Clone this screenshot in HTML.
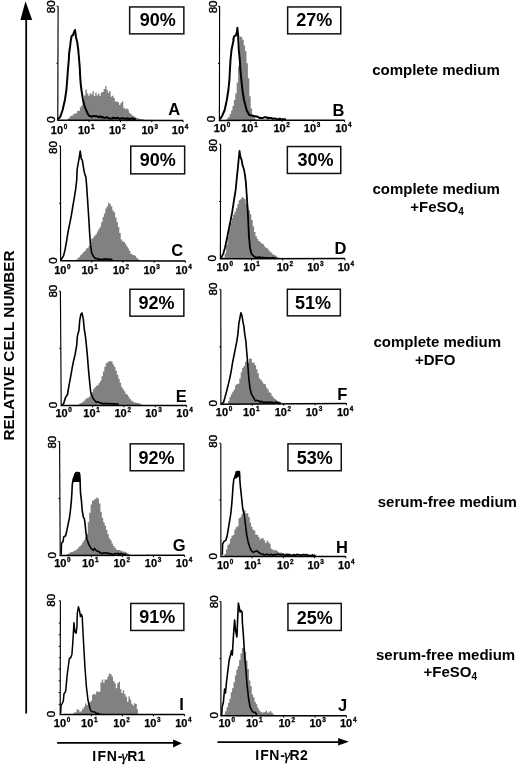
<!DOCTYPE html>
<html><head><meta charset="utf-8"><title>IFN-gamma receptor flow cytometry</title>
<style>
html,body{margin:0;padding:0;background:#fff;}
body{width:520px;height:768px;overflow:hidden;}
svg{display:block;}
</style></head><body>
<svg width="520" height="768" viewBox="0 0 520 768">
<rect width="520" height="768" fill="#fff"/>
<path d="M67.25,120.2 L67.25,118.92 L68.65,118.92 L68.65,117.81 L70.05,117.81 L70.05,116.06 L71.45,116.06 L71.45,115.86 L72.85,115.86 L72.85,114.24 L74.25,114.24 L74.25,113.61 L75.65,113.61 L75.65,113.26 L77.05,113.26 L77.05,111.1 L78.45,111.1 L78.45,110.63 L79.85,110.63 L79.85,107.16 L81.25,107.16 L81.25,105.5 L82.65,105.5 L82.65,101.34 L84.05,101.34 L84.05,95.44 L85.45,95.44 L85.45,89.49 L86.85,89.49 L86.85,93.4 L88.25,93.4 L88.25,95.87 L89.65,95.87 L89.65,93.31 L91.05,93.31 L91.05,94.56 L92.45,94.56 L92.45,91.34 L93.85,91.34 L93.85,95.91 L95.25,95.91 L95.25,92.7 L96.65,92.7 L96.65,95.6 L98.05,95.6 L98.05,93.42 L99.45,93.42 L99.45,95.71 L100.85,95.71 L100.85,92.52 L102.25,92.52 L102.25,92.1 L103.65,92.1 L103.65,88.93 L105.05,88.93 L105.05,86.23 L106.45,86.23 L106.45,89.97 L107.85,89.97 L107.85,92.74 L109.25,92.74 L109.25,90.92 L110.65,90.92 L110.65,96.64 L112.05,96.64 L112.05,95.81 L113.45,95.81 L113.45,98.11 L114.85,98.11 L114.85,101.61 L116.25,101.61 L116.25,101.62 L117.65,101.62 L117.65,102.13 L119.05,102.13 L119.05,104.94 L120.45,104.94 L120.45,103.07 L121.85,103.07 L121.85,101.26 L123.25,101.26 L123.25,107.65 L124.65,107.65 L124.65,109.16 L126.05,109.16 L126.05,108.2 L127.45,108.2 L127.45,109.49 L128.85,109.49 L128.85,112.82 L130.25,112.82 L130.25,113.92 L131.65,113.92 L131.65,115.45 L133.05,115.45 L133.05,116.12 L134.45,116.12 L134.45,117.02 L135.85,117.02 L135.85,118.06 L137.25,118.06 L137.25,118 L138.65,118 L138.65,118.81 L140.05,118.81 L140.05,118.99 L141.45,118.99 L141.45,119.15 L142.85,119.15 L142.85,119.55 L144.2,119.55 L144.2,120.2 Z" fill="#818181"/>
<path d="M57.9,119.1 L60.2,117 L62.6,110 L64.9,100 L66.4,90 L67.2,80 L67.9,70 L68.8,60 L69.1,53.5 L70,47.25 L70.75,41 L71.6,36 L72.9,35.4 L73.75,32.9 L75,30 L76,37.25 L77.25,42.25 L78.25,49.75 L79,58.5 L79.8,68 L80.2,77 L80.8,85 L81.6,91 L83,100 L84.5,106 L86.1,110 L87.9,114.2 L89.25,115.88 L90.45,115.98 L91.65,116.81 L92.85,116.12 L94.05,116.11 L95.25,116.15 L96.45,116.05 L97.65,116.66 L98.85,117.22 L100.05,116.27 L101.25,117.16 L102.45,116.95 L103.65,117.71 L104.85,117.87 L106.05,117.27 L107.25,117.4 L108.45,118.02 L109.65,118.52 L110.85,118.48 L112.05,118.56 L113.25,117.63 L114.45,117.97 L115.65,118.32 L116.85,118.04 L118.05,117.87 L119.25,118.85 L120.45,118.47 L121.65,118.15 L122.85,118.28 L124.05,118.61 L125.25,118.71 L126.45,118.76 L127.65,118.15 L128.85,119.06 L130.05,118.95 L131.25,118.43 L132.45,118.47 L133.65,119.01 L134.85,118.94 L135,119.3" fill="none" stroke="#000" stroke-width="2.0" stroke-linejoin="round" stroke-linecap="round"/>
<path d="M58.1,6.2 L57.8,120.2" fill="none" stroke="#000" stroke-width="1.15"/>
<path d="M57.2,120.2 L183.1,120.4" fill="none" stroke="#000" stroke-width="1.5"/>
<path d="M56.6,6.2 H58.1 M56.45,63.2 H57.95" stroke="#000" stroke-width="1"/>
<path d="M89.12,120.25 v1.8 M120.45,120.3 v1.8 M151.77,120.35 v1.8 M183.1,120.4 v1.8" stroke="#000" stroke-width="1"/>
<text transform="translate(55.15,13.22) rotate(-90)" font-size="11.5" stroke="#000" stroke-width="0.45" font-family="Liberation Sans, Arial, sans-serif">80</text>
<text transform="translate(54.95,122.8) rotate(-90)" font-size="11.5" stroke="#000" stroke-width="0.45" font-family="Liberation Sans, Arial, sans-serif">0</text>
<text x="50.8" y="133.8" font-size="11" font-weight="bold" stroke="#000" stroke-width="0.25" font-family="Liberation Sans, Arial, sans-serif">10<tspan x="63.7" y="128.9" font-size="6.4" stroke-width="0.3">0</tspan></text>
<text x="78" y="133.8" font-size="11" font-weight="bold" stroke="#000" stroke-width="0.25" font-family="Liberation Sans, Arial, sans-serif">10<tspan x="90.9" y="128.9" font-size="6.4" stroke-width="0.3">1</tspan></text>
<text x="109" y="133.8" font-size="11" font-weight="bold" stroke="#000" stroke-width="0.25" font-family="Liberation Sans, Arial, sans-serif">10<tspan x="121.9" y="128.9" font-size="6.4" stroke-width="0.3">2</tspan></text>
<text x="141.5" y="133.8" font-size="11" font-weight="bold" stroke="#000" stroke-width="0.25" font-family="Liberation Sans, Arial, sans-serif">10<tspan x="154.4" y="128.9" font-size="6.4" stroke-width="0.3">3</tspan></text>
<text x="171.8" y="133.8" font-size="11" font-weight="bold" stroke="#000" stroke-width="0.25" font-family="Liberation Sans, Arial, sans-serif">10<tspan x="184.7" y="128.9" font-size="6.4" stroke-width="0.3">4</tspan></text>
<rect x="129.65" y="6.95" width="54.2" height="26.9" fill="none" stroke="#111" stroke-width="1.5"/>
<text x="157.7" y="26" text-anchor="middle" font-size="18" font-weight="bold" font-family="Liberation Sans, Arial, sans-serif">90%</text>
<text x="174.2" y="114.6" text-anchor="middle" font-size="16.5" font-weight="bold" font-family="Liberation Sans, Arial, sans-serif">A</text>
<path d="M226.9,120.4 L226.9,118.46 L228.3,118.46 L228.3,116.76 L229.7,116.76 L229.7,113.94 L231.1,113.94 L231.1,110.4 L232.5,110.4 L232.5,105.92 L233.9,105.92 L233.9,99.83 L235.3,99.83 L235.3,93.5 L236.7,93.5 L236.7,82.56 L238.1,82.56 L238.1,66.38 L239.5,66.38 L239.5,36.62 L240.9,36.62 L240.9,37.07 L242.3,37.07 L242.3,39.86 L243.7,39.86 L243.7,45.55 L245.1,45.55 L245.1,51.24 L246.5,51.24 L246.5,63.17 L247.9,63.17 L247.9,78.27 L249.3,78.27 L249.3,96.2 L250.7,96.2 L250.7,108.44 L252.1,108.44 L252.1,114.53 L253.5,114.53 L253.5,117.46 L254.9,117.46 L254.9,118.89 L256.3,118.89 L256.3,120.4 Z" fill="#818181"/>
<path d="M220.3,118.6 L222.1,116 L224.7,110 L226.8,100 L228.4,90 L229.4,80 L229.9,70 L230.5,60 L231.5,50 L233.6,40 L233.3,39.3 L234.3,36.1 L235.9,35.5 L236.9,31.7 L237.4,27.8 L238.2,36.1 L238.3,40 L238.8,50 L239.8,60 L240.4,70 L241.4,80 L242.4,90 L244,100 L246.6,110 L249.2,115 L253.4,115.9 L254.6,116.45 L255.8,116.23 L257,116.75 L258.2,116.86 L259.4,118.09 L260.6,117.82 L261.8,117.91 L263,118 L264.2,117.23 L265.4,117.13 L266.6,117.13 L267.8,118.52 L269,117.65 L270.2,118.13 L271.4,117.93 L272.6,118.78 L273.8,118.47 L275,118.61 L276.2,118.69 L277.4,119.18 L278.6,119.42 L279.8,118.61 L281,119.37 L282.2,119.18 L283.4,119.21 L284.6,119.65 L285,119" fill="none" stroke="#000" stroke-width="2.0" stroke-linejoin="round" stroke-linecap="round"/>
<path d="M219.6,6.3 L219.4,120.4" fill="none" stroke="#000" stroke-width="1.15"/>
<path d="M218.8,120.4 L344.6,120.2" fill="none" stroke="#000" stroke-width="1.5"/>
<path d="M218.1,6.3 H219.6 M218,63.35 H219.5" stroke="#000" stroke-width="1"/>
<path d="M250.7,120.35 v1.8 M282,120.3 v1.8 M313.3,120.25 v1.8 M344.6,120.2 v1.8" stroke="#000" stroke-width="1"/>
<text transform="translate(216.85,13.35) rotate(-90)" font-size="11.5" stroke="#000" stroke-width="0.45" font-family="Liberation Sans, Arial, sans-serif">80</text>
<text transform="translate(214.75,122.35) rotate(-90)" font-size="11.5" stroke="#000" stroke-width="0.45" font-family="Liberation Sans, Arial, sans-serif">0</text>
<text x="213.8" y="131.9" font-size="11" font-weight="bold" stroke="#000" stroke-width="0.25" font-family="Liberation Sans, Arial, sans-serif">10<tspan x="226.7" y="127" font-size="6.4" stroke-width="0.3">0</tspan></text>
<text x="241.26" y="131.9" font-size="11" font-weight="bold" stroke="#000" stroke-width="0.25" font-family="Liberation Sans, Arial, sans-serif">10<tspan x="254.16" y="127" font-size="6.4" stroke-width="0.3">1</tspan></text>
<text x="273.44" y="131.9" font-size="11" font-weight="bold" stroke="#000" stroke-width="0.25" font-family="Liberation Sans, Arial, sans-serif">10<tspan x="286.34" y="127" font-size="6.4" stroke-width="0.3">2</tspan></text>
<text x="303.82" y="131.9" font-size="11" font-weight="bold" stroke="#000" stroke-width="0.25" font-family="Liberation Sans, Arial, sans-serif">10<tspan x="316.72" y="127" font-size="6.4" stroke-width="0.3">3</tspan></text>
<text x="335.2" y="131.9" font-size="11" font-weight="bold" stroke="#000" stroke-width="0.25" font-family="Liberation Sans, Arial, sans-serif">10<tspan x="348.1" y="127" font-size="6.4" stroke-width="0.3">4</tspan></text>
<rect x="287.65" y="6.95" width="53.1" height="26.9" fill="none" stroke="#111" stroke-width="1.5"/>
<text x="314.3" y="25.7" text-anchor="middle" font-size="18" font-weight="bold" font-family="Liberation Sans, Arial, sans-serif">27%</text>
<text x="338.45" y="115.5" text-anchor="middle" font-size="16.5" font-weight="bold" font-family="Liberation Sans, Arial, sans-serif">B</text>
<path d="M75.9,260.8 L75.9,259.77 L77.3,259.77 L77.3,258.22 L78.7,258.22 L78.7,256.98 L80.1,256.98 L80.1,255.27 L81.5,255.27 L81.5,253.85 L82.9,253.85 L82.9,252.31 L84.3,252.31 L84.3,250.89 L85.7,250.89 L85.7,248.66 L87.1,248.66 L87.1,247.92 L88.5,247.92 L88.5,245.67 L89.9,245.67 L89.9,243.21 L91.3,243.21 L91.3,238.73 L92.7,238.73 L92.7,237.38 L94.1,237.38 L94.1,235.65 L95.5,235.65 L95.5,234.35 L96.9,234.35 L96.9,231.49 L98.3,231.49 L98.3,228.92 L99.7,228.92 L99.7,226.72 L101.1,226.72 L101.1,222.23 L102.5,222.23 L102.5,217.11 L103.9,217.11 L103.9,213.55 L105.3,213.55 L105.3,208.62 L106.7,208.62 L106.7,206.18 L108.1,206.18 L108.1,202.76 L109.5,202.76 L109.5,204.35 L110.9,204.35 L110.9,206.41 L112.3,206.41 L112.3,210.59 L113.7,210.59 L113.7,212.32 L115.1,212.32 L115.1,217.57 L116.5,217.57 L116.5,222.01 L117.9,222.01 L117.9,227 L119.3,227 L119.3,233.07 L120.7,233.07 L120.7,239.54 L122.1,239.54 L122.1,241.23 L123.5,241.23 L123.5,241.98 L124.9,241.98 L124.9,243.85 L126.3,243.85 L126.3,246.27 L127.7,246.27 L127.7,248.54 L129.1,248.54 L129.1,250.99 L130.5,250.99 L130.5,253.95 L131.9,253.95 L131.9,254.41 L133.3,254.41 L133.3,255.15 L134.7,255.15 L134.7,255.79 L136.1,255.79 L136.1,257.65 L137.5,257.65 L137.5,259.03 L138.9,259.03 L138.9,260.06 L140,260.06 L140,260.8 Z" fill="#818181"/>
<path d="M61.3,259.5 L63.6,255.6 L65.1,249.5 L66.7,240.3 L68.2,231 L69.8,223.4 L71.3,215.7 L72.8,206.5 L74.4,197.2 L75.6,189.6 L76.7,180.3 L77.1,169.6 L78.2,163.4 L79.3,157.3 L80.2,151.1 L81.3,158.8 L82.4,160.4 L83.3,166.5 L84.4,172.7 L85.9,177.3 L86.7,186.5 L87.4,197.2 L88.2,209.5 L89,221.8 L89.7,234.1 L90.5,244.9 L91.6,252.6 L93.6,256.6 L94.8,258.05 L96,258.81 L97.2,258.5 L98.4,259.45 L99.6,258.89 L100.8,259.31 L102,259.88 L103.2,259.03 L104.4,258.88 L105.6,259.12 L106.8,258.96 L108,259.57 L109.2,259.17 L110.4,259.18 L111.6,259.52 L112,259.8" fill="none" stroke="#000" stroke-width="1.6" stroke-linejoin="round" stroke-linecap="round"/>
<path d="M60.5,146 L60.6,260.8" fill="none" stroke="#000" stroke-width="1.15"/>
<path d="M60,260.8 L185.4,260.9" fill="none" stroke="#000" stroke-width="1.5"/>
<path d="M59,146 H60.5 M59.05,203.4 H60.55" stroke="#000" stroke-width="1"/>
<path d="M91.8,260.82 v1.8 M123,260.85 v1.8 M154.2,260.88 v1.8 M185.4,260.9 v1.8" stroke="#000" stroke-width="1"/>
<text transform="translate(56.9,153.9) rotate(-90)" font-size="11.5" stroke="#000" stroke-width="0.45" font-family="Liberation Sans, Arial, sans-serif">80</text>
<text transform="translate(56.5,263.85) rotate(-90)" font-size="11.5" stroke="#000" stroke-width="0.45" font-family="Liberation Sans, Arial, sans-serif">0</text>
<text x="54.2" y="273.5" font-size="11" font-weight="bold" stroke="#000" stroke-width="0.25" font-family="Liberation Sans, Arial, sans-serif">10<tspan x="67.1" y="268.6" font-size="6.4" stroke-width="0.3">0</tspan></text>
<text x="81.39" y="273.5" font-size="11" font-weight="bold" stroke="#000" stroke-width="0.25" font-family="Liberation Sans, Arial, sans-serif">10<tspan x="94.29" y="268.6" font-size="6.4" stroke-width="0.3">1</tspan></text>
<text x="112.66" y="273.5" font-size="11" font-weight="bold" stroke="#000" stroke-width="0.25" font-family="Liberation Sans, Arial, sans-serif">10<tspan x="125.56" y="268.6" font-size="6.4" stroke-width="0.3">2</tspan></text>
<text x="143.43" y="273.5" font-size="11" font-weight="bold" stroke="#000" stroke-width="0.25" font-family="Liberation Sans, Arial, sans-serif">10<tspan x="156.33" y="268.6" font-size="6.4" stroke-width="0.3">3</tspan></text>
<text x="175.4" y="273.5" font-size="11" font-weight="bold" stroke="#000" stroke-width="0.25" font-family="Liberation Sans, Arial, sans-serif">10<tspan x="188.3" y="268.6" font-size="6.4" stroke-width="0.3">4</tspan></text>
<rect x="130.75" y="146.15" width="53.9" height="27.7" fill="none" stroke="#111" stroke-width="1.5"/>
<text x="157.7" y="165.9" text-anchor="middle" font-size="18" font-weight="bold" font-family="Liberation Sans, Arial, sans-serif">90%</text>
<text x="177.3" y="256.2" text-anchor="middle" font-size="16.5" font-weight="bold" font-family="Liberation Sans, Arial, sans-serif">C</text>
<path d="M223.3,258.8 L223.3,257.34 L224.7,257.34 L224.7,253.59 L226.1,253.59 L226.1,245.06 L227.5,245.06 L227.5,236.53 L228.9,236.53 L228.9,229.1 L230.3,229.1 L230.3,222.97 L231.7,222.97 L231.7,218.08 L233.1,218.08 L233.1,214.79 L234.5,214.79 L234.5,211.68 L235.9,211.68 L235.9,208.26 L237.3,208.26 L237.3,204.32 L238.7,204.32 L238.7,200.22 L240.1,200.22 L240.1,199.32 L241.5,199.32 L241.5,197.19 L242.9,197.19 L242.9,197.65 L244.3,197.65 L244.3,199.31 L245.7,199.31 L245.7,203.75 L247.1,203.75 L247.1,207.07 L248.5,207.07 L248.5,210.18 L249.9,210.18 L249.9,214.35 L251.3,214.35 L251.3,219.91 L252.7,219.91 L252.7,226.31 L254.1,226.31 L254.1,231.95 L255.5,231.95 L255.5,236.13 L256.9,236.13 L256.9,238.94 L258.3,238.94 L258.3,240.89 L259.7,240.89 L259.7,241.9 L261.1,241.9 L261.1,243.43 L262.5,243.43 L262.5,243.95 L263.9,243.95 L263.9,246.32 L265.3,246.32 L265.3,247.84 L266.7,247.84 L266.7,248.16 L268.1,248.16 L268.1,250.02 L269.5,250.02 L269.5,251.73 L270.9,251.73 L270.9,252.82 L272.3,252.82 L272.3,254.32 L273.7,254.32 L273.7,255.01 L275.1,255.01 L275.1,255.8 L276.5,255.8 L276.5,256.64 L277.9,256.64 L277.9,257.38 L279.3,257.38 L279.3,258.12 L280.7,258.12 L280.7,258.28 L282.1,258.28 L282.1,258.46 L283.5,258.46 L283.5,258.56 L284,258.56 L284,258.8 Z" fill="#818181"/>
<path d="M221.3,257.5 L223.2,253.8 L225,247.7 L226.6,240.2 L228.4,231.1 L230.3,222 L232.3,211.5 L234.1,199.4 L235.6,190.3 L236.8,178.2 L237.9,167.7 L238.6,160.1 L239.5,151 L240.5,157.1 L241.7,160.1 L242.4,164.6 L243.9,169.2 L245,175.2 L245.9,182.8 L246.6,193.3 L247.4,205.4 L248.2,220.5 L248.9,235.6 L250,247.7 L251.5,253.8 L254.5,256.84 L255.7,257.34 L256.9,257.3 L258.1,257.75 L259.3,256.86 L260.5,257.66 L261.7,257.53 L262.9,257.37 L264.1,258.2 L265.3,257.62 L266.5,258.2 L267.7,257.82 L268.9,258.17 L270.1,258.2 L271.3,258.2 L272.5,257.58 L273.7,258.2 L274.9,257.75 L275,258.3" fill="none" stroke="#000" stroke-width="1.8" stroke-linejoin="round" stroke-linecap="round"/>
<path d="M220.6,144.2 L220.4,258.8" fill="none" stroke="#000" stroke-width="1.15"/>
<path d="M219.8,258.8 L345,258.6" fill="none" stroke="#000" stroke-width="1.5"/>
<path d="M219.1,144.2 H220.6 M219,201.5 H220.5" stroke="#000" stroke-width="1"/>
<path d="M251.55,258.75 v1.8 M282.7,258.7 v1.8 M313.85,258.65 v1.8 M345,258.6 v1.8" stroke="#000" stroke-width="1"/>
<text transform="translate(217.35,151.8) rotate(-90)" font-size="11.5" stroke="#000" stroke-width="0.45" font-family="Liberation Sans, Arial, sans-serif">80</text>
<text transform="translate(216.3,261.5) rotate(-90)" font-size="11.5" stroke="#000" stroke-width="0.45" font-family="Liberation Sans, Arial, sans-serif">0</text>
<text x="216.5" y="271.2" font-size="11" font-weight="bold" stroke="#000" stroke-width="0.25" font-family="Liberation Sans, Arial, sans-serif">10<tspan x="229.4" y="266.3" font-size="6.4" stroke-width="0.3">0</tspan></text>
<text x="243.3" y="271.2" font-size="11" font-weight="bold" stroke="#000" stroke-width="0.25" font-family="Liberation Sans, Arial, sans-serif">10<tspan x="256.2" y="266.3" font-size="6.4" stroke-width="0.3">1</tspan></text>
<text x="276.65" y="271.2" font-size="11" font-weight="bold" stroke="#000" stroke-width="0.25" font-family="Liberation Sans, Arial, sans-serif">10<tspan x="289.55" y="266.3" font-size="6.4" stroke-width="0.3">2</tspan></text>
<text x="307.17" y="271.2" font-size="11" font-weight="bold" stroke="#000" stroke-width="0.25" font-family="Liberation Sans, Arial, sans-serif">10<tspan x="320.07" y="266.3" font-size="6.4" stroke-width="0.3">3</tspan></text>
<text x="337.7" y="271.2" font-size="11" font-weight="bold" stroke="#000" stroke-width="0.25" font-family="Liberation Sans, Arial, sans-serif">10<tspan x="350.6" y="266.3" font-size="6.4" stroke-width="0.3">4</tspan></text>
<rect x="287.35" y="146.55" width="53.4" height="26.9" fill="none" stroke="#111" stroke-width="1.5"/>
<text x="315.45" y="165.9" text-anchor="middle" font-size="18" font-weight="bold" font-family="Liberation Sans, Arial, sans-serif">30%</text>
<text x="340.5" y="253.9" text-anchor="middle" font-size="16.5" font-weight="bold" font-family="Liberation Sans, Arial, sans-serif">D</text>
<path d="M77.7,405.6 L77.7,404.8 L79.1,404.8 L79.1,403.76 L80.5,403.76 L80.5,402.94 L81.9,402.94 L81.9,402.24 L83.3,402.24 L83.3,401.13 L84.7,401.13 L84.7,399.39 L86.1,399.39 L86.1,398.28 L87.5,398.28 L87.5,397.7 L88.9,397.7 L88.9,396.45 L90.3,396.45 L90.3,394.23 L91.7,394.23 L91.7,391.91 L93.1,391.91 L93.1,388.9 L94.5,388.9 L94.5,387.2 L95.9,387.2 L95.9,386.07 L97.3,386.07 L97.3,384.96 L98.7,384.96 L98.7,383.06 L100.1,383.06 L100.1,380.77 L101.5,380.77 L101.5,376.17 L102.9,376.17 L102.9,371.4 L104.3,371.4 L104.3,366.7 L105.7,366.7 L105.7,363.21 L107.1,363.21 L107.1,362.35 L108.5,362.35 L108.5,361.2 L109.9,361.2 L109.9,360.98 L111.3,360.98 L111.3,361.68 L112.7,361.68 L112.7,364.48 L114.1,364.48 L114.1,366.9 L115.5,366.9 L115.5,370.7 L116.9,370.7 L116.9,374.79 L118.3,374.79 L118.3,378.83 L119.7,378.83 L119.7,382.7 L121.1,382.7 L121.1,386.92 L122.5,386.92 L122.5,389.31 L123.9,389.31 L123.9,391.24 L125.3,391.24 L125.3,393.84 L126.7,393.84 L126.7,394.78 L128.1,394.78 L128.1,396.73 L129.5,396.73 L129.5,398.94 L130.9,398.94 L130.9,400.46 L132.3,400.46 L132.3,401.57 L133.7,401.57 L133.7,402.41 L135.1,402.41 L135.1,402.51 L136.5,402.51 L136.5,402.9 L137.9,402.9 L137.9,403.17 L139.3,403.17 L139.3,403.58 L140.7,403.58 L140.7,404.6 L142.1,404.6 L142.1,405.23 L142.3,405.23 L142.3,405.6 Z" fill="#818181"/>
<path d="M62,404.8 L63.6,403.7 L65.5,397.6 L67.5,394.5 L69,385.3 L70.5,377.6 L72.1,368.4 L73.6,360.7 L75.1,354.5 L76.7,345.3 L77.4,336.1 L79,330 L79.7,320.7 L80.8,314.6 L82,313 L83.3,319.2 L84.4,330 L85.4,336.1 L86.4,345.3 L87.4,356.1 L88.5,369.9 L89.6,381.5 L90.8,393 L93.1,398.5 L96.2,402.16 L97.4,401.65 L98.6,402.06 L99.8,402.99 L101,402.87 L102.2,403.76 L103.4,403.64 L104.6,403.82 L105.8,403.25 L107,403.9 L108.2,403.6 L109.4,404.03 L110.6,403.4 L111.8,403.83 L113,403.78 L114.2,403.84 L115.4,403.92 L116.6,404.06 L117.8,403.79 L118,404.3" fill="none" stroke="#000" stroke-width="1.6" stroke-linejoin="round" stroke-linecap="round"/>
<path d="M60.4,291.2 L61.2,405.6" fill="none" stroke="#000" stroke-width="1.15"/>
<path d="M60.6,405.6 L186.6,405.4" fill="none" stroke="#000" stroke-width="1.5"/>
<path d="M58.9,291.2 H60.4 M59.3,348.4 H60.8" stroke="#000" stroke-width="1"/>
<path d="M92.55,405.55 v1.8 M123.9,405.5 v1.8 M155.25,405.45 v1.8 M186.6,405.4 v1.8" stroke="#000" stroke-width="1"/>
<text transform="translate(56.65,297.55) rotate(-90)" font-size="11.5" stroke="#000" stroke-width="0.45" font-family="Liberation Sans, Arial, sans-serif">80</text>
<text transform="translate(57.25,408.15) rotate(-90)" font-size="11.5" stroke="#000" stroke-width="0.45" font-family="Liberation Sans, Arial, sans-serif">0</text>
<text x="55.4" y="416.9" font-size="11" font-weight="bold" stroke="#000" stroke-width="0.25" font-family="Liberation Sans, Arial, sans-serif">10<tspan x="68.3" y="412" font-size="6.4" stroke-width="0.3">0</tspan></text>
<text x="83.35" y="416.9" font-size="11" font-weight="bold" stroke="#000" stroke-width="0.25" font-family="Liberation Sans, Arial, sans-serif">10<tspan x="96.25" y="412" font-size="6.4" stroke-width="0.3">1</tspan></text>
<text x="114.5" y="416.9" font-size="11" font-weight="bold" stroke="#000" stroke-width="0.25" font-family="Liberation Sans, Arial, sans-serif">10<tspan x="127.4" y="412" font-size="6.4" stroke-width="0.3">2</tspan></text>
<text x="145.25" y="416.9" font-size="11" font-weight="bold" stroke="#000" stroke-width="0.25" font-family="Liberation Sans, Arial, sans-serif">10<tspan x="158.15" y="412" font-size="6.4" stroke-width="0.3">3</tspan></text>
<text x="176.3" y="416.9" font-size="11" font-weight="bold" stroke="#000" stroke-width="0.25" font-family="Liberation Sans, Arial, sans-serif">10<tspan x="189.2" y="412" font-size="6.4" stroke-width="0.3">4</tspan></text>
<rect x="129.95" y="289.25" width="53.9" height="26.9" fill="none" stroke="#111" stroke-width="1.5"/>
<text x="156.4" y="309" text-anchor="middle" font-size="18" font-weight="bold" font-family="Liberation Sans, Arial, sans-serif">92%</text>
<text x="181.18" y="402.3" text-anchor="middle" font-size="16.5" font-weight="bold" font-family="Liberation Sans, Arial, sans-serif">E</text>
<path d="M228.1,404.2 L228.1,400.79 L229.5,400.79 L229.5,397.03 L230.9,397.03 L230.9,394.17 L232.3,394.17 L232.3,391.7 L233.7,391.7 L233.7,389.41 L235.1,389.41 L235.1,385.15 L236.5,385.15 L236.5,384 L237.9,384 L237.9,383.79 L239.3,383.79 L239.3,378.53 L240.7,378.53 L240.7,372.35 L242.1,372.35 L242.1,367.99 L243.5,367.99 L243.5,365.99 L244.9,365.99 L244.9,361.94 L246.3,361.94 L246.3,360.4 L247.7,360.4 L247.7,362.87 L249.1,362.87 L249.1,358.18 L250.5,358.18 L250.5,358.91 L251.9,358.91 L251.9,362.63 L253.3,362.63 L253.3,362.43 L254.7,362.43 L254.7,365.28 L256.1,365.28 L256.1,369.15 L257.5,369.15 L257.5,373.27 L258.9,373.27 L258.9,378.35 L260.3,378.35 L260.3,379.65 L261.7,379.65 L261.7,381.72 L263.1,381.72 L263.1,383.65 L264.5,383.65 L264.5,384.13 L265.9,384.13 L265.9,387.43 L267.3,387.43 L267.3,389.38 L268.7,389.38 L268.7,392.31 L270.1,392.31 L270.1,393.08 L271.5,393.08 L271.5,395.9 L272.9,395.9 L272.9,397.6 L274.3,397.6 L274.3,398.99 L275.7,398.99 L275.7,399.65 L277.1,399.65 L277.1,400.88 L278.5,400.88 L278.5,401.53 L279.9,401.53 L279.9,402.56 L281.3,402.56 L281.3,403.18 L282,403.18 L282,404.2 Z" fill="#818181"/>
<path d="M222,403.3 L223.5,402.5 L225,397.3 L226.6,391.2 L228.1,385.2 L229.6,379.1 L231.1,371.6 L232.6,362.5 L234.1,355 L235.6,347.4 L236.8,341.4 L237.9,333.8 L238.9,323.2 L239.8,318.7 L240.9,312.7 L242,315.7 L242.9,321.7 L243.9,326.3 L244.7,333.8 L245.9,341.4 L246.6,350.4 L247.4,359.5 L248.2,370.1 L248.9,379.1 L250,388.2 L251.5,394.2 L253.4,397.3 L255.3,400.87 L256.5,400.33 L257.7,400.88 L258.9,400.75 L260.1,402.23 L261.3,401.22 L262.5,402.1 L263.7,402.16 L264.9,402.45 L266.1,402.13 L267.3,402.19 L268.5,402.32 L269.7,401.93 L270.9,402.32 L272.1,402.3 L273.3,403.05 L274.5,402.62 L275.7,402.18 L276.9,402.13 L278.1,402.62 L279.3,403.55 L280,402.9" fill="none" stroke="#000" stroke-width="1.6" stroke-linejoin="round" stroke-linecap="round"/>
<path d="M220.8,289.4 L220.9,404.2" fill="none" stroke="#000" stroke-width="1.15"/>
<path d="M220.3,404.2 L346.5,403.4" fill="none" stroke="#000" stroke-width="1.5"/>
<path d="M219.3,289.4 H220.8 M219.35,346.8 H220.85" stroke="#000" stroke-width="1"/>
<path d="M252.3,404 v1.8 M283.7,403.8 v1.8 M315.1,403.6 v1.8 M346.5,403.4 v1.8" stroke="#000" stroke-width="1"/>
<text transform="translate(216.75,295.4) rotate(-90)" font-size="11.5" stroke="#000" stroke-width="0.45" font-family="Liberation Sans, Arial, sans-serif">80</text>
<text transform="translate(217.25,406.55) rotate(-90)" font-size="11.5" stroke="#000" stroke-width="0.45" font-family="Liberation Sans, Arial, sans-serif">0</text>
<text x="215.8" y="415.8" font-size="11" font-weight="bold" stroke="#000" stroke-width="0.25" font-family="Liberation Sans, Arial, sans-serif">10<tspan x="228.7" y="410.9" font-size="6.4" stroke-width="0.3">0</tspan></text>
<text x="243.05" y="415.8" font-size="11" font-weight="bold" stroke="#000" stroke-width="0.25" font-family="Liberation Sans, Arial, sans-serif">10<tspan x="255.95" y="410.9" font-size="6.4" stroke-width="0.3">1</tspan></text>
<text x="274.7" y="415.8" font-size="11" font-weight="bold" stroke="#000" stroke-width="0.25" font-family="Liberation Sans, Arial, sans-serif">10<tspan x="287.6" y="410.9" font-size="6.4" stroke-width="0.3">2</tspan></text>
<text x="305.75" y="415.8" font-size="11" font-weight="bold" stroke="#000" stroke-width="0.25" font-family="Liberation Sans, Arial, sans-serif">10<tspan x="318.65" y="410.9" font-size="6.4" stroke-width="0.3">3</tspan></text>
<text x="336.9" y="415.8" font-size="11" font-weight="bold" stroke="#000" stroke-width="0.25" font-family="Liberation Sans, Arial, sans-serif">10<tspan x="349.8" y="410.9" font-size="6.4" stroke-width="0.3">4</tspan></text>
<rect x="287.35" y="289.25" width="53" height="26.6" fill="none" stroke="#111" stroke-width="1.5"/>
<text x="313.1" y="309" text-anchor="middle" font-size="18" font-weight="bold" font-family="Liberation Sans, Arial, sans-serif">51%</text>
<text x="342.3" y="400.2" text-anchor="middle" font-size="16.5" font-weight="bold" font-family="Liberation Sans, Arial, sans-serif">F</text>
<path d="M66.8,555.6 L66.8,554.24 L68.2,554.24 L68.2,553.46 L69.6,553.46 L69.6,552.42 L71,552.42 L71,551.98 L72.4,551.98 L72.4,551.63 L73.8,551.63 L73.8,550.64 L75.2,550.64 L75.2,550.16 L76.6,550.16 L76.6,549.02 L78,549.02 L78,547.57 L79.4,547.57 L79.4,546.07 L80.8,546.07 L80.8,544.71 L82.2,544.71 L82.2,542.29 L83.6,542.29 L83.6,539.89 L85,539.89 L85,536.63 L86.4,536.63 L86.4,533.48 L87.8,533.48 L87.8,522.18 L89.2,522.18 L89.2,512.76 L90.6,512.76 L90.6,504.52 L92,504.52 L92,500.78 L93.4,500.78 L93.4,499.88 L94.8,499.88 L94.8,498.79 L96.2,498.79 L96.2,497.51 L97.6,497.51 L97.6,498.65 L99,498.65 L99,503.59 L100.4,503.59 L100.4,511.69 L101.8,511.69 L101.8,517.63 L103.2,517.63 L103.2,522.34 L104.6,522.34 L104.6,525.61 L106,525.61 L106,529.9 L107.4,529.9 L107.4,534.21 L108.8,534.21 L108.8,538.27 L110.2,538.27 L110.2,540.25 L111.6,540.25 L111.6,543.55 L113,543.55 L113,545.99 L114.4,545.99 L114.4,547.79 L115.8,547.79 L115.8,549.61 L117.2,549.61 L117.2,550.06 L118.6,550.06 L118.6,550.03 L120,550.03 L120,550.39 L121.4,550.39 L121.4,551.17 L122.8,551.17 L122.8,551.5 L124.2,551.5 L124.2,551.83 L125.6,551.83 L125.6,552.61 L127,552.61 L127,553.33 L128.4,553.33 L128.4,554.3 L129.8,554.3 L129.8,555.6 Z" fill="#818181"/>
<path d="M61.2,554.1 L61.5,543.3 L63.1,541.4 L63.7,537 L65.6,535.8 L66.8,530.7 L68.1,524.4 L69.4,518.1 L70.4,510.5 L71.3,501.7 L71.9,492.8 L72.3,484 L73.2,480.2 L74.2,476.4 L75,473.9 L76.3,472.6 L78.2,472.6 L79.5,473.9 L80.1,481.5 L80.5,492.8 L81.4,500.4 L82.2,510.5 L83.3,516.8 L84.5,519.3 L85.1,524.4 L86,533.2 L87,539.5 L88.9,544.6 L91.1,548.4 L93.4,550.3 L94.6,548.4 L96.5,550.65 L97.7,551.56 L98.9,551.19 L100.1,552.98 L101.3,553.07 L102.5,553.64 L103.7,552.89 L104.9,552.93 L106.1,552.87 L107.3,553.19 L108.5,553.05 L109.7,554.02 L110.9,553.6 L112.1,554.26 L113.3,554.22 L114.5,553.68 L115.7,553.46 L116.9,553.75 L118.1,553.34 L119.3,554.24 L120.5,553.63 L121.7,553.6 L122.9,554.67 L124.1,554.06 L125.3,554.81 L126,554.2" fill="none" stroke="#000" stroke-width="1.6" stroke-linejoin="round" stroke-linecap="round"/>
<path d="M72.6,482 L72.6,478 L74,478 L74,475 L75.2,475 L75.7,472.2 L77,472.2 L77.5,474 L78.2,472.2 L80,472.2 L80.3,476 L80.6,482 Z" fill="#000"/>
<path d="M59.6,441.5 L60.2,555.6" fill="none" stroke="#000" stroke-width="1.15"/>
<path d="M59.6,555.6 L184.6,555.2" fill="none" stroke="#000" stroke-width="1.5"/>
<path d="M58.1,441.5 H59.6 M58.4,498.55 H59.9" stroke="#000" stroke-width="1"/>
<path d="M91.3,555.5 v1.8 M122.4,555.4 v1.8 M153.5,555.3 v1.8 M184.6,555.2 v1.8" stroke="#000" stroke-width="1"/>
<text transform="translate(56.2,448.6) rotate(-90)" font-size="11.5" stroke="#000" stroke-width="0.45" font-family="Liberation Sans, Arial, sans-serif">80</text>
<text transform="translate(56.15,558.6) rotate(-90)" font-size="11.5" stroke="#000" stroke-width="0.45" font-family="Liberation Sans, Arial, sans-serif">0</text>
<text x="54.2" y="567.3" font-size="11" font-weight="bold" stroke="#000" stroke-width="0.25" font-family="Liberation Sans, Arial, sans-serif">10<tspan x="67.1" y="562.4" font-size="6.4" stroke-width="0.3">0</tspan></text>
<text x="82.08" y="567.3" font-size="11" font-weight="bold" stroke="#000" stroke-width="0.25" font-family="Liberation Sans, Arial, sans-serif">10<tspan x="94.98" y="562.4" font-size="6.4" stroke-width="0.3">1</tspan></text>
<text x="113.49" y="567.3" font-size="11" font-weight="bold" stroke="#000" stroke-width="0.25" font-family="Liberation Sans, Arial, sans-serif">10<tspan x="126.39" y="562.4" font-size="6.4" stroke-width="0.3">2</tspan></text>
<text x="144.8" y="567.3" font-size="11" font-weight="bold" stroke="#000" stroke-width="0.25" font-family="Liberation Sans, Arial, sans-serif">10<tspan x="157.7" y="562.4" font-size="6.4" stroke-width="0.3">3</tspan></text>
<text x="175.8" y="567.3" font-size="11" font-weight="bold" stroke="#000" stroke-width="0.25" font-family="Liberation Sans, Arial, sans-serif">10<tspan x="188.7" y="562.4" font-size="6.4" stroke-width="0.3">4</tspan></text>
<rect x="130.25" y="443.85" width="53.6" height="26.9" fill="none" stroke="#111" stroke-width="1.5"/>
<text x="156.55" y="464.2" text-anchor="middle" font-size="18" font-weight="bold" font-family="Liberation Sans, Arial, sans-serif">92%</text>
<text x="179.05" y="551.2" text-anchor="middle" font-size="16.5" font-weight="bold" font-family="Liberation Sans, Arial, sans-serif">G</text>
<path d="M224.5,556.6 L224.5,554.04 L225.9,554.04 L225.9,549.57 L227.3,549.57 L227.3,544.98 L228.7,544.98 L228.7,543.43 L230.1,543.43 L230.1,538.47 L231.5,538.47 L231.5,535.83 L232.9,535.83 L232.9,534.94 L234.3,534.94 L234.3,529.65 L235.7,529.65 L235.7,527.16 L237.1,527.16 L237.1,526.21 L238.5,526.21 L238.5,518.17 L239.9,518.17 L239.9,517.37 L241.3,517.37 L241.3,514.25 L242.7,514.25 L242.7,510.33 L244.1,510.33 L244.1,510.19 L245.5,510.19 L245.5,513.52 L246.9,513.52 L246.9,513.15 L248.3,513.15 L248.3,517.04 L249.7,517.04 L249.7,522.4 L251.1,522.4 L251.1,526.82 L252.5,526.82 L252.5,529.65 L253.9,529.65 L253.9,530.45 L255.3,530.45 L255.3,534.84 L256.7,534.84 L256.7,534.83 L258.1,534.83 L258.1,537.01 L259.5,537.01 L259.5,539.51 L260.9,539.51 L260.9,538.33 L262.3,538.33 L262.3,538.14 L263.7,538.14 L263.7,540.3 L265.1,540.3 L265.1,543.06 L266.5,543.06 L266.5,540.8 L267.9,540.8 L267.9,542.18 L269.3,542.18 L269.3,543.73 L270.7,543.73 L270.7,548.72 L272.1,548.72 L272.1,549.49 L273.5,549.49 L273.5,550.61 L274.9,550.61 L274.9,549.67 L276.3,549.67 L276.3,550.69 L277.7,550.69 L277.7,551.95 L279.1,551.95 L279.1,552.81 L280.5,552.81 L280.5,552.62 L281.9,552.62 L281.9,552.96 L283.3,552.96 L283.3,553.55 L284.7,553.55 L284.7,553.73 L286.1,553.73 L286.1,553.26 L287.5,553.26 L287.5,553.62 L288.9,553.62 L288.9,553.63 L290.3,553.63 L290.3,554.15 L291.7,554.15 L291.7,554.28 L293.1,554.28 L293.1,554.02 L294.5,554.02 L294.5,554.29 L295.9,554.29 L295.9,554.6 L297.3,554.6 L297.3,554.27 L298.7,554.27 L298.7,554.55 L300.1,554.55 L300.1,554.6 L301.5,554.6 L301.5,555.03 L302.9,555.03 L302.9,554.84 L304.3,554.84 L304.3,555.28 L305.7,555.28 L305.7,555.15 L307.1,555.15 L307.1,555.43 L308.5,555.43 L308.5,555.6 L309.9,555.6 L309.9,555.69 L311.3,555.69 L311.3,555.77 L312.7,555.77 L312.7,556.03 L314.1,556.03 L314.1,556.17 L315.4,556.17 L315.4,556.6 Z" fill="#818181"/>
<path d="M222.3,554.4 L222.6,544.2 L223.8,541.7 L225.7,540.4 L227,536.6 L228.3,528.9 L229.6,521.2 L230.8,513.6 L231.7,504.7 L232.5,494.5 L233,486.8 L233.8,479.1 L235.1,476.6 L236.3,472.1 L237.9,471.5 L239.4,471.5 L239.8,479.1 L240.4,486.8 L241.1,493.2 L241.9,500.8 L242.7,508.5 L244,513.6 L244.9,520 L245.5,525.1 L246.8,535.3 L248.1,541.7 L249.6,546.8 L251.3,550.6 L253.4,552.5 L254.6,551.47 L255.8,551.4 L257,550.68 L258.2,551.98 L259.4,552.75 L260.6,553.69 L261.8,553.92 L263,554.1 L264.2,554.94 L265.4,554.72 L266.6,554.29 L267.8,554.41 L269,554.83 L270.2,554.97 L271.4,554.32 L272.6,555.16 L273.8,554.66 L275,555.13 L276.2,554.19 L277.4,554.52 L278.6,554.11 L279.8,554.68 L281,554.47 L282.2,554.61 L283.4,554.44 L284.6,555.34 L285.8,555.05 L287,554.66 L288.2,554.88 L289.4,554.45 L290.6,555.53 L291.8,555.49 L293,555.04 L294.2,554.47 L295.4,555.6 L296.6,554.58 L297.8,554.37 L299,554.89 L300.2,554.85 L301.4,555.53 L302.6,554.56 L303.8,554.45 L305,555 L306.2,554.45 L307.4,555.34 L308.6,555.11 L309.8,555.66 L311,555.76 L312.2,554.79 L313.4,555.58 L314.6,555.19 L315,555.2" fill="none" stroke="#000" stroke-width="1.6" stroke-linejoin="round" stroke-linecap="round"/>
<path d="M234,478.5 L234,475.5 L235.8,475.5 L235.8,471.2 L240,471.2 L240.3,478.5 L238.5,476.5 L236.5,478.5 Z" fill="#000"/>
<path d="M220.8,443.2 L220.9,556.6" fill="none" stroke="#000" stroke-width="1.15"/>
<path d="M220.3,556.6 L345.8,556.4" fill="none" stroke="#000" stroke-width="1.5"/>
<path d="M219.3,443.2 H220.8 M219.35,499.9 H220.85" stroke="#000" stroke-width="1"/>
<path d="M252.12,556.55 v1.8 M283.35,556.5 v1.8 M314.58,556.45 v1.8 M345.8,556.4 v1.8" stroke="#000" stroke-width="1"/>
<text transform="translate(216.55,447.65) rotate(-90)" font-size="11.5" stroke="#000" stroke-width="0.45" font-family="Liberation Sans, Arial, sans-serif">80</text>
<text transform="translate(216.8,559.4) rotate(-90)" font-size="11.5" stroke="#000" stroke-width="0.45" font-family="Liberation Sans, Arial, sans-serif">0</text>
<text x="216.9" y="568.5" font-size="11" font-weight="bold" stroke="#000" stroke-width="0.25" font-family="Liberation Sans, Arial, sans-serif">10<tspan x="229.8" y="563.6" font-size="6.4" stroke-width="0.3">0</tspan></text>
<text x="244.32" y="568.5" font-size="11" font-weight="bold" stroke="#000" stroke-width="0.25" font-family="Liberation Sans, Arial, sans-serif">10<tspan x="257.22" y="563.6" font-size="6.4" stroke-width="0.3">1</tspan></text>
<text x="277.05" y="568.5" font-size="11" font-weight="bold" stroke="#000" stroke-width="0.25" font-family="Liberation Sans, Arial, sans-serif">10<tspan x="289.95" y="563.6" font-size="6.4" stroke-width="0.3">2</tspan></text>
<text x="307.47" y="568.5" font-size="11" font-weight="bold" stroke="#000" stroke-width="0.25" font-family="Liberation Sans, Arial, sans-serif">10<tspan x="320.37" y="563.6" font-size="6.4" stroke-width="0.3">3</tspan></text>
<text x="338.1" y="568.5" font-size="11" font-weight="bold" stroke="#000" stroke-width="0.25" font-family="Liberation Sans, Arial, sans-serif">10<tspan x="351" y="563.6" font-size="6.4" stroke-width="0.3">4</tspan></text>
<rect x="287.95" y="443.85" width="53.3" height="26.9" fill="none" stroke="#111" stroke-width="1.5"/>
<text x="314.7" y="463.9" text-anchor="middle" font-size="18" font-weight="bold" font-family="Liberation Sans, Arial, sans-serif">53%</text>
<text x="341.9" y="552.5" text-anchor="middle" font-size="16.5" font-weight="bold" font-family="Liberation Sans, Arial, sans-serif">H</text>
<path d="M73.8,714.6 L73.8,712.57 L75.2,712.57 L75.2,712.52 L76.6,712.52 L76.6,709.2 L78,709.2 L78,709.98 L79.4,709.98 L79.4,712.26 L80.8,712.26 L80.8,711.08 L82.2,711.08 L82.2,708.77 L83.6,708.77 L83.6,706.75 L85,706.75 L85,703.6 L86.4,703.6 L86.4,705.26 L87.8,705.26 L87.8,702.99 L89.2,702.99 L89.2,701.88 L90.6,701.88 L90.6,700.72 L92,700.72 L92,695.04 L93.4,695.04 L93.4,693.7 L94.8,693.7 L94.8,694.43 L96.2,694.43 L96.2,691.27 L97.6,691.27 L97.6,692.08 L99,692.08 L99,691.83 L100.4,691.83 L100.4,682.62 L101.8,682.62 L101.8,679.54 L103.2,679.54 L103.2,682.87 L104.6,682.87 L104.6,679.42 L106,679.42 L106,679.56 L107.4,679.56 L107.4,676.4 L108.8,676.4 L108.8,673.61 L110.2,673.61 L110.2,674.16 L111.6,674.16 L111.6,676.41 L113,676.41 L113,681.07 L114.4,681.07 L114.4,683.37 L115.8,683.37 L115.8,688.29 L117.2,688.29 L117.2,683.31 L118.6,683.31 L118.6,681.7 L120,681.7 L120,689.2 L121.4,689.2 L121.4,693.12 L122.8,693.12 L122.8,690.3 L124.2,690.3 L124.2,694.19 L125.6,694.19 L125.6,696.76 L127,696.76 L127,701.64 L128.4,701.64 L128.4,696.44 L129.8,696.44 L129.8,699.38 L131.2,699.38 L131.2,703.79 L132.6,703.79 L132.6,705.47 L134,705.47 L134,703.22 L135.4,703.22 L135.4,703.94 L136.8,703.94 L136.8,709.27 L138,709.27 L138,714.6 Z" fill="#818181"/>
<path d="M60.7,712.5 L61,705.7 L62.2,703.5 L63.3,701.2 L64,693.7 L65.6,691.4 L66.3,684.6 L67.1,675.5 L68.3,666.5 L69.3,658.9 L70.8,657.4 L71.9,654.4 L72.4,648.3 L73.1,637.8 L73.9,622.7 L74.9,631.7 L76.1,633.2 L76.9,627.2 L77.3,613.6 L78.4,606.8 L79.5,610.6 L80.4,616.6 L81.4,614.4 L82.2,616.6 L82.9,630.2 L83.7,645.3 L84.4,657.4 L85,668 L86.5,687.7 L88.1,700.8 L90,708.5 L91.2,711.19 L92.4,711.64 L93.6,711.87 L94.8,711.99 L96,713.05 L97.2,713.37 L98.4,713.55 L99,713.6" fill="none" stroke="#000" stroke-width="1.5" stroke-linejoin="round" stroke-linecap="round"/>
<path d="M60.4,600.8 L60.2,714.6" fill="none" stroke="#000" stroke-width="1.15"/>
<path d="M59.6,714.6 L184.6,714.4" fill="none" stroke="#000" stroke-width="1.5"/>
<path d="M58.9,600.8 H60.4 M58.8,657.7 H60.3" stroke="#000" stroke-width="1"/>
<path d="M58.7,623 H60.2" stroke="#000" stroke-width="1"/>
<path d="M58.7,634.7 H60.2" stroke="#000" stroke-width="1"/>
<path d="M58.7,646.4 H60.2" stroke="#000" stroke-width="1"/>
<path d="M58.7,669.1 H60.2" stroke="#000" stroke-width="1"/>
<path d="M58.7,680.8 H60.2" stroke="#000" stroke-width="1"/>
<path d="M58.7,692.5 H60.2" stroke="#000" stroke-width="1"/>
<path d="M58.7,704.3 H60.2" stroke="#000" stroke-width="1"/>
<path d="M91.3,714.55 v1.8 M122.4,714.5 v1.8 M153.5,714.45 v1.8 M184.6,714.4 v1.8" stroke="#000" stroke-width="1"/>
<text transform="translate(55.35,606.7) rotate(-90)" font-size="11.5" stroke="#000" stroke-width="0.45" font-family="Liberation Sans, Arial, sans-serif">80</text>
<text transform="translate(55.35,717.35) rotate(-90)" font-size="11.5" stroke="#000" stroke-width="0.45" font-family="Liberation Sans, Arial, sans-serif">0</text>
<text x="53.8" y="726.5" font-size="11" font-weight="bold" stroke="#000" stroke-width="0.25" font-family="Liberation Sans, Arial, sans-serif">10<tspan x="66.7" y="721.6" font-size="6.4" stroke-width="0.3">0</tspan></text>
<text x="81.08" y="726.5" font-size="11" font-weight="bold" stroke="#000" stroke-width="0.25" font-family="Liberation Sans, Arial, sans-serif">10<tspan x="93.98" y="721.6" font-size="6.4" stroke-width="0.3">1</tspan></text>
<text x="113.35" y="726.5" font-size="11" font-weight="bold" stroke="#000" stroke-width="0.25" font-family="Liberation Sans, Arial, sans-serif">10<tspan x="126.25" y="721.6" font-size="6.4" stroke-width="0.3">2</tspan></text>
<text x="144.13" y="726.5" font-size="11" font-weight="bold" stroke="#000" stroke-width="0.25" font-family="Liberation Sans, Arial, sans-serif">10<tspan x="157.03" y="721.6" font-size="6.4" stroke-width="0.3">3</tspan></text>
<text x="175.2" y="726.5" font-size="11" font-weight="bold" stroke="#000" stroke-width="0.25" font-family="Liberation Sans, Arial, sans-serif">10<tspan x="188.1" y="721.6" font-size="6.4" stroke-width="0.3">4</tspan></text>
<rect x="130.75" y="603.45" width="53.1" height="27" fill="none" stroke="#111" stroke-width="1.5"/>
<text x="157.3" y="623.2" text-anchor="middle" font-size="18" font-weight="bold" font-family="Liberation Sans, Arial, sans-serif">91%</text>
<text x="181.55" y="710.2" text-anchor="middle" font-size="16.5" font-weight="bold" font-family="Liberation Sans, Arial, sans-serif">I</text>
<path d="M223.7,715.8 L223.7,714.19 L225.1,714.19 L225.1,711.19 L226.5,711.19 L226.5,707.32 L227.9,707.32 L227.9,702.96 L229.3,702.96 L229.3,698.75 L230.7,698.75 L230.7,692.3 L232.1,692.3 L232.1,688.23 L233.5,688.23 L233.5,682.26 L234.9,682.26 L234.9,675.4 L236.3,675.4 L236.3,669.77 L237.7,669.77 L237.7,666.23 L239.1,666.23 L239.1,660.08 L240.5,660.08 L240.5,653.54 L241.9,653.54 L241.9,648.08 L243.3,648.08 L243.3,648.6 L244.7,648.6 L244.7,652.09 L246.1,652.09 L246.1,660.39 L247.5,660.39 L247.5,669.09 L248.9,669.09 L248.9,680.51 L250.3,680.51 L250.3,685.89 L251.7,685.89 L251.7,694.39 L253.1,694.39 L253.1,697.2 L254.5,697.2 L254.5,701.97 L255.9,701.97 L255.9,704.37 L257.3,704.37 L257.3,707.75 L258.7,707.75 L258.7,710.33 L260.1,710.33 L260.1,711.72 L261.5,711.72 L261.5,712.53 L262.9,712.53 L262.9,712.55 L264.3,712.55 L264.3,711.92 L265.7,711.92 L265.7,710.83 L267.1,710.83 L267.1,712.73 L268.5,712.73 L268.5,712.17 L269.9,712.17 L269.9,711.04 L271.3,711.04 L271.3,712.84 L272.7,712.84 L272.7,714.28 L274.1,714.28 L274.1,715.29 L274.8,715.29 L274.8,715.8 Z" fill="#818181"/>
<path d="M221.8,714.4 L222.1,707.4 L223.4,702 L224.6,689 L225.5,693 L226.5,682 L227.7,672 L229.2,660 L230.5,655 L231.5,650.7 L232.3,655 L233.2,640 L233.8,630.7 L234.6,620 L235.5,630 L236.9,636.9 L237.6,620 L238.4,603.1 L239.3,607.4 L240.1,612.1 L240.9,610.5 L242.1,612.1 L242.4,623 L243.2,632.4 L244,644.9 L244.8,657.4 L245.9,669.9 L247.1,685.5 L248.7,699.6 L250.25,707.4 L252.6,711.8 L253.8,712.1 L255,712.36 L256.2,713.57 L256.5,714.4" fill="none" stroke="#000" stroke-width="1.6" stroke-linejoin="round" stroke-linecap="round"/>
<path d="M220.9,601.5 L220.9,715.8" fill="none" stroke="#000" stroke-width="1.15"/>
<path d="M220.3,715.8 L346.5,715.8" fill="none" stroke="#000" stroke-width="1.5"/>
<path d="M219.4,601.5 H220.9 M219.4,658.65 H220.9" stroke="#000" stroke-width="1"/>
<path d="M252.3,715.8 v1.8 M283.7,715.8 v1.8 M315.1,715.8 v1.8 M346.5,715.8 v1.8" stroke="#000" stroke-width="1"/>
<text transform="translate(217.55,608.15) rotate(-90)" font-size="11.5" stroke="#000" stroke-width="0.45" font-family="Liberation Sans, Arial, sans-serif">80</text>
<text transform="translate(217.85,718.5) rotate(-90)" font-size="11.5" stroke="#000" stroke-width="0.45" font-family="Liberation Sans, Arial, sans-serif">0</text>
<text x="218.5" y="727" font-size="11" font-weight="bold" stroke="#000" stroke-width="0.25" font-family="Liberation Sans, Arial, sans-serif">10<tspan x="231.4" y="722.1" font-size="6.4" stroke-width="0.3">0</tspan></text>
<text x="245.99" y="727" font-size="11" font-weight="bold" stroke="#000" stroke-width="0.25" font-family="Liberation Sans, Arial, sans-serif">10<tspan x="258.89" y="722.1" font-size="6.4" stroke-width="0.3">1</tspan></text>
<text x="278.48" y="727" font-size="11" font-weight="bold" stroke="#000" stroke-width="0.25" font-family="Liberation Sans, Arial, sans-serif">10<tspan x="291.38" y="722.1" font-size="6.4" stroke-width="0.3">2</tspan></text>
<text x="309.45" y="727" font-size="11" font-weight="bold" stroke="#000" stroke-width="0.25" font-family="Liberation Sans, Arial, sans-serif">10<tspan x="322.35" y="722.1" font-size="6.4" stroke-width="0.3">3</tspan></text>
<text x="340" y="727" font-size="11" font-weight="bold" stroke="#000" stroke-width="0.25" font-family="Liberation Sans, Arial, sans-serif">10<tspan x="352.9" y="722.1" font-size="6.4" stroke-width="0.3">4</tspan></text>
<rect x="287.95" y="603.45" width="53.3" height="27" fill="none" stroke="#111" stroke-width="1.5"/>
<text x="314.85" y="623.8" text-anchor="middle" font-size="18" font-weight="bold" font-family="Liberation Sans, Arial, sans-serif">25%</text>
<text x="342.65" y="710.5" text-anchor="middle" font-size="16.5" font-weight="bold" font-family="Liberation Sans, Arial, sans-serif">J</text>
<path d="M26.2,19 V713.6" stroke="#000" stroke-width="1.8"/>
<path d="M25.5,1.3 L32.2,19.9 L20.4,19.9 Z" fill="#000"/>
<text transform="translate(13.9,440.6) rotate(-90)" font-size="15" font-weight="bold" font-family="Liberation Sans, Arial, sans-serif" textLength="190.2" lengthAdjust="spacingAndGlyphs">RELATIVE CELL NUMBER</text>
<path d="M57.1,742.8 H174" stroke="#000" stroke-width="1.8"/>
<path d="M173.1,739.6 L181.9,743.3 L173.1,747.5 Z" fill="#000"/>
<path d="M217.4,742.2 H339" stroke="#000" stroke-width="1.8"/>
<path d="M338.1,738.1 L348.9,741.8 L338.1,745.6 Z" fill="#000"/>
<text x="92.26 97.46 106.66 117.75" y="761" font-size="14" font-weight="bold" font-family="Liberation Sans, Arial, sans-serif">IFN-<tspan x="121.53" font-size="15" font-weight="normal" font-style="italic" font-family="Liberation Serif, serif" stroke="#000" stroke-width="0.3">γ</tspan><tspan x="127.16 137.6">R1</tspan></text>
<text x="255.36 260.26 269.26 280.35" y="760.3" font-size="14" font-weight="bold" font-family="Liberation Sans, Arial, sans-serif">IFN-<tspan x="284.23" font-size="15" font-weight="normal" font-style="italic" font-family="Liberation Serif, serif" stroke="#000" stroke-width="0.3">γ</tspan><tspan x="289.46 300.11">R2</tspan></text>
<text transform="translate(372.2,74.5)" font-size="15" font-weight="bold" font-family="Liberation Sans, Arial, sans-serif">complete medium</text>
<text transform="translate(372.4,194)" font-size="15" font-weight="bold" font-family="Liberation Sans, Arial, sans-serif">complete medium</text>
<text transform="translate(410.3,212.1)" font-size="15" font-weight="bold" font-family="Liberation Sans, Arial, sans-serif">+FeSO<tspan font-size="10" dy="3.1">4</tspan></text>
<text transform="translate(373.5,346.8)" font-size="15" font-weight="bold" font-family="Liberation Sans, Arial, sans-serif">complete medium</text>
<text transform="translate(414.9,365.1)" font-size="15" font-weight="bold" font-family="Liberation Sans, Arial, sans-serif">+DFO</text>
<text transform="translate(377.7,507.4)" font-size="15" font-weight="bold" font-family="Liberation Sans, Arial, sans-serif">serum-free medium</text>
<text transform="translate(376,659.7)" font-size="15" font-weight="bold" font-family="Liberation Sans, Arial, sans-serif">serum-free medium</text>
<text transform="translate(423.5,677.3)" font-size="15" font-weight="bold" font-family="Liberation Sans, Arial, sans-serif">+FeSO<tspan font-size="10" dy="3.1">4</tspan></text>
</svg></body></html>
